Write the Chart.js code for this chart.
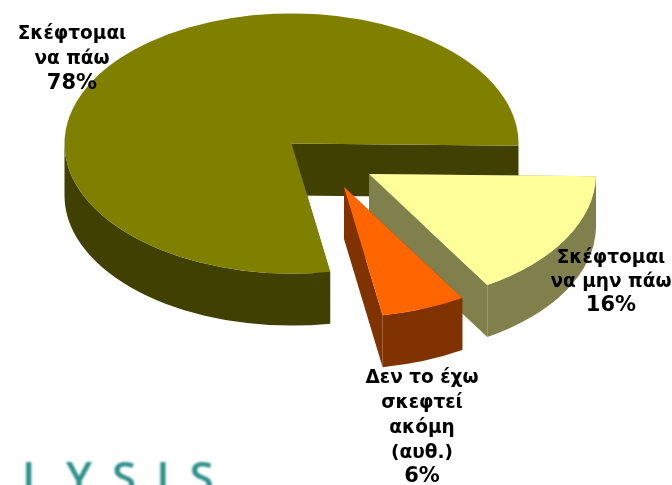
<!DOCTYPE html>
<html><head><meta charset="utf-8">
<script src="https://cdn.jsdelivr.net/npm/chart.js@4"></script>
<style>html,body{margin:0;padding:0;background:#fff}canvas{display:block}</style>
</head><body>
<canvas id="c" width="672" height="485"></canvas>
<script>
const categories = ["Σκέφτομαι να μην πάω", "Δεν το έχω σκεφτεί ακόμη (αυθ.)", "Σκέφτομαι να πάω"];
const values = [16, 6, 78];
const topColors = ["#FFFF99", "#FF6600", "#808000"];
const wallColors = ["#80804D", "#803300", "#404000"];
const labelLines = [
  ["Σκέφτομαι", "να μην πάω", "16%"],
  ["Δεν το έχω", "σκεφτεί", "ακόμη", "(αυθ.)", "6%"],
  ["Σκέφτομαι", "να πάω", "78%"]
];
const logoText = "LYSIS";

const TILT = 0.573, DEPTH = 52;
const apex = [[369, 174], [344, 187], [291.5, 143.5]];
const labelPos = [[611, [258, 282, 306]], [422, [378, 403, 428, 453, 477]], [72, [34, 59, 84]]];
const drawOrder = [2, 0, 1];

const pie3d = {
  id: "pie3d",
  beforeDatasetsDraw(chart) {
    const ctx = chart.ctx, arcs = chart.getDatasetMeta(0).data;
    drawOrder.forEach(i => {
      const el = arcs[i], cx = el.x, cy = el.y, r = el.outerRadius;
      const a0 = el.startAngle, a1 = el.endAngle, D = DEPTH / TILT;
      ctx.save();
      ctx.setTransform(1, 0, 0, TILT, apex[i][0] - cx, apex[i][1] - TILT * cy);
      ctx.fillStyle = wallColors[i];
      [a0, a1].forEach(a => {
        const ex = cx + r * Math.cos(a), ey = cy + r * Math.sin(a);
        ctx.beginPath();
        ctx.moveTo(cx, cy); ctx.lineTo(ex, ey); ctx.lineTo(ex, ey + D); ctx.lineTo(cx, cy + D);
        ctx.closePath(); ctx.fill();
      });
      const w0 = Math.max(a0, 0), w1 = Math.min(a1, Math.PI);
      if (w1 > w0) {
        ctx.beginPath();
        ctx.arc(cx, cy, r, w0, w1);
        ctx.arc(cx, cy + D, r, w1, w0, true);
        ctx.closePath(); ctx.fill();
      }
      el.draw(ctx);
      ctx.restore();
    });
    return false;
  },
  afterDraw(chart) {
    const ctx = chart.ctx;
    ctx.save();
    ctx.fillStyle = "#000";
    ctx.textAlign = "center";
    ctx.textBaseline = "middle";
    labelLines.forEach((lines, i) => {
      lines.forEach((t, j) => {
        ctx.font = (t.endsWith("%") ? "bold 21px" : "bold 18.5px") + " 'DejaVu Sans'";
        ctx.fillText(t, labelPos[i][0], labelPos[i][1][j]);
      });
    });
    ctx.fillStyle = "#2E8F8A";
    ctx.font = "600 44px 'Open Sans'";
    ctx.textAlign = "left";
    ctx.textBaseline = "alphabetic";
    ctx.filter = "blur(0.8px)";
    ctx.letterSpacing = "20px";
    ctx.fillText(logoText, 22, 493);
    ctx.restore();
  }
};

new Chart(document.getElementById("c"), {
  type: "pie",
  data: {
    labels: categories,
    datasets: [{ data: values, backgroundColor: topColors, borderWidth: 0, hoverOffset: 0 }]
  },
  options: {
    responsive: false,
    animation: false,
    rotation: 91,
    events: [],
    layout: { padding: { left: 0, right: 90, top: 15, bottom: 16 } },
    plugins: { legend: { display: false }, tooltip: { enabled: false }, title: { display: false } }
  },
  plugins: [pie3d]
});
</script>
</body></html>
